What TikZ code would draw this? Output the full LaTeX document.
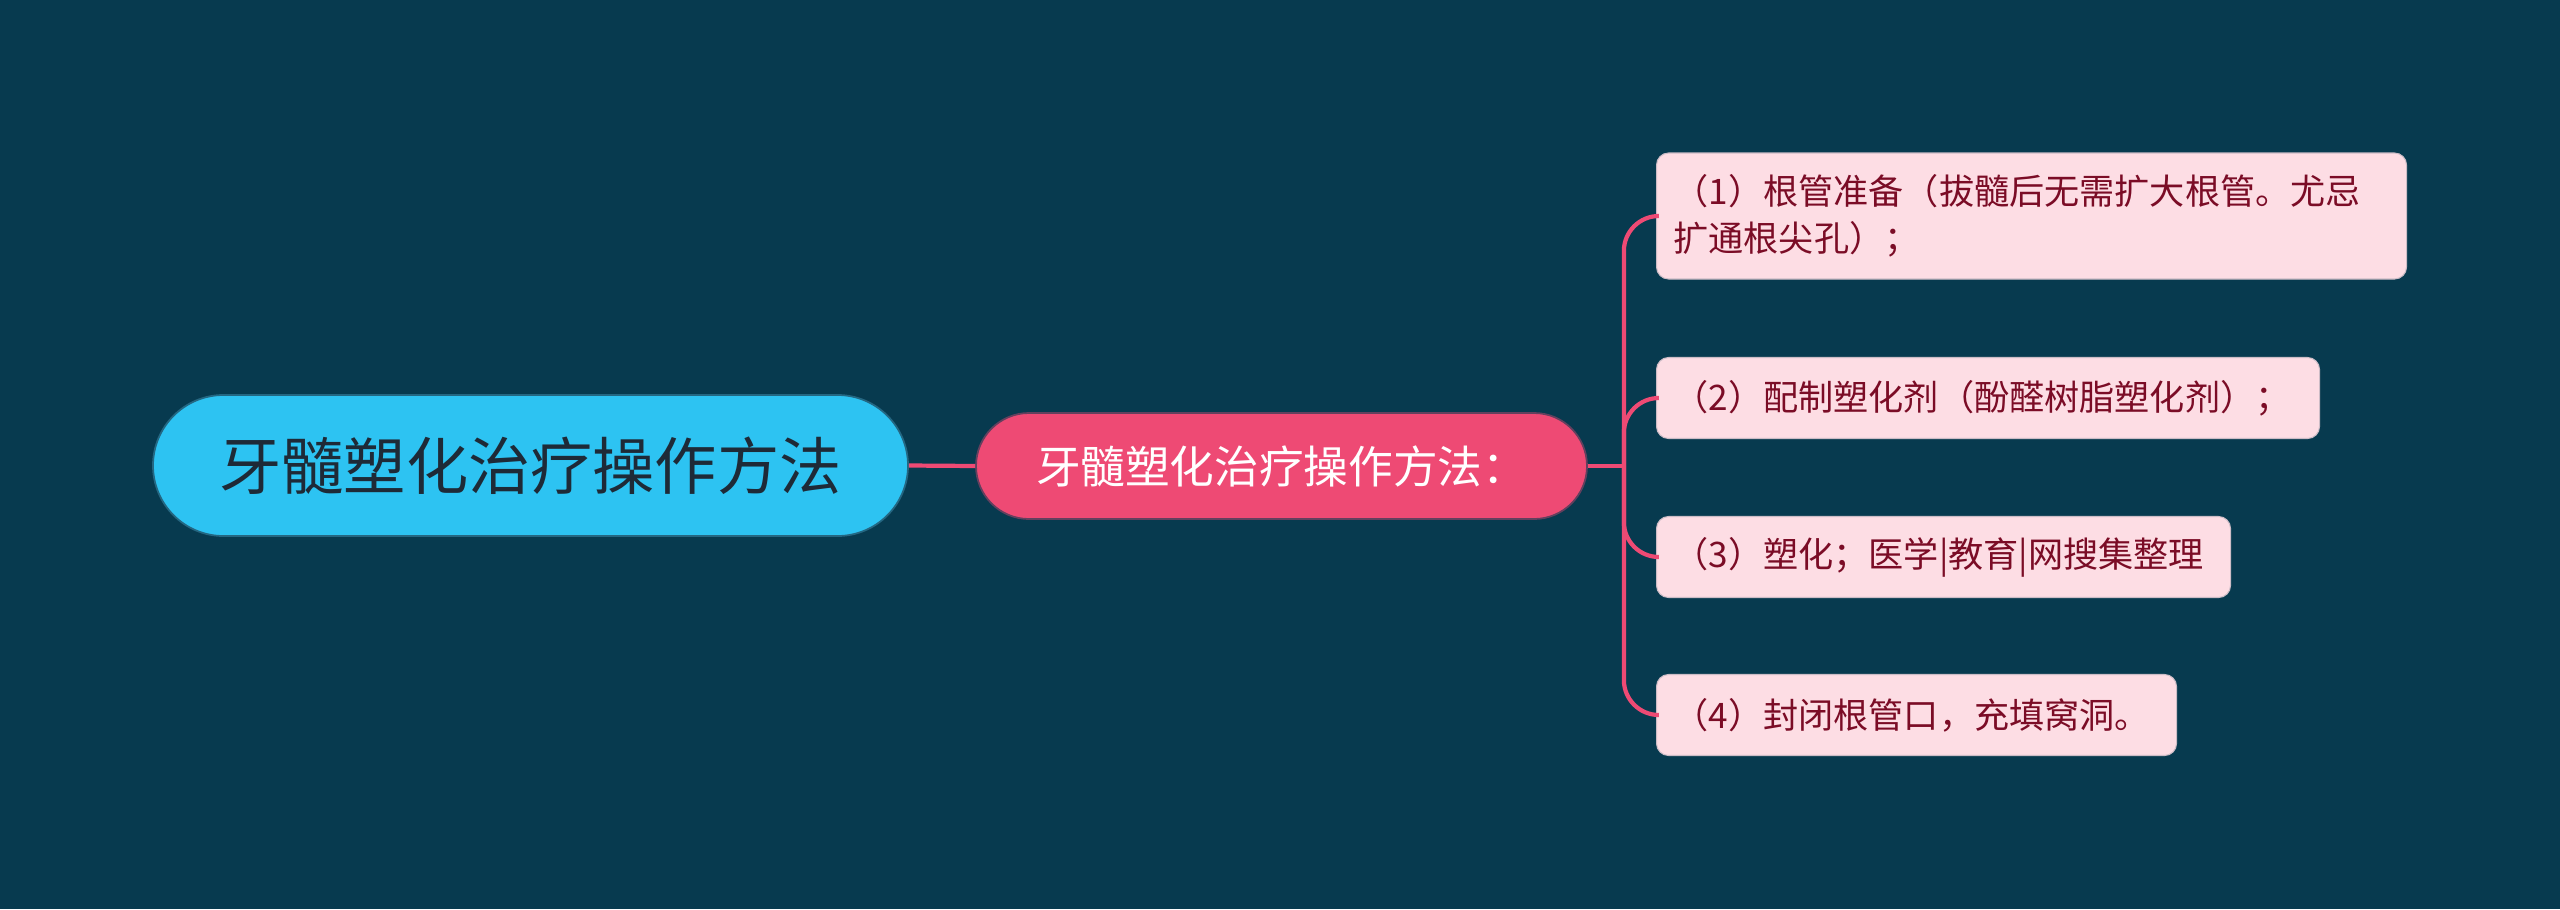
\documentclass[tikz,border=0pt]{standalone}
\usepackage{fontspec}
\usepackage{tikz}
\setmainfont{Noto Sans CJK SC}
\definecolor{grund}{HTML}{073A4F}
\definecolor{himmel}{HTML}{2DC3F2}
\definecolor{tinte}{HTML}{1E2A37}
\definecolor{rosa}{HTML}{EE4A74}
\definecolor{rosal}{HTML}{FDDDE4}
\definecolor{wein}{HTML}{7B0C26}
\tikzset{
  kern/.style={fill=himmel,draw=tinte!60!himmel,line width=0.5pt,text=tinte,
    minimum width=7.55cm,minimum height=1.41cm,rounded corners=0.705cm,
    font=\fontsize{17.7}{21}\selectfont},
  thema/.style={fill=rosa,draw=grund!60!rosa,line width=0.5pt,text=white,
    minimum width=6.11cm,minimum height=1.06cm,rounded corners=0.53cm,
    font=\fontsize{12.7}{15}\selectfont},
  blatt/.style={fill=rosal,draw=rosal!80!grund,line width=0.3pt,text=wein,
    anchor=west,align=left,inner xsep=0.17cm,minimum height=0.81cm,
    rounded corners=0.12cm,font=\fontsize{10}{13.4}\selectfont},
  ast/.style={rosa,line width=1.2pt},
}

\begin{document}
\begin{tikzpicture}
  \fill[grund] (0,0) rectangle (25.6,-9.09);
  \useasboundingbox (0,0) rectangle (25.6,-9.09);
  % Hauptthema und Zweig
  \node[kern] (kern) at (5.305,-4.655) {牙髓塑化治疗操作方法};
  \node[thema] (thema) at (12.815,-4.66) {牙髓塑化治疗操作方法：};
  \draw[ast] (kern.east) -- (thema.west);
  % Blaetter
  \node[blatt,text width=7.16cm,minimum height=1.26cm] (b1) at (16.56,-2.16)
    {（1）根管准备（拔髓后无需扩大根管。尤忌\\扩通根尖孔）；};
  \node[blatt,text width=6.29cm] (b2) at (16.56,-3.98) {（2）配制塑化剂（酚醛树脂塑化剂）；};
  \node[blatt,text width=5.40cm] (b3) at (16.56,-5.57) {（3）塑化；医学|教育|网搜集整理};
  \node[blatt,text width=4.86cm] (b4) at (16.56,-7.15) {（4）封闭根管口，充填窝洞。};
  \draw[ast] (thema.east) -- ++(0.36,0) coordinate (gabel);
  \foreach \b in {b1,b2,b3,b4}
    \draw[ast,rounded corners=0.35cm] (gabel) |- (\b.west);
\end{tikzpicture}
\end{document}
